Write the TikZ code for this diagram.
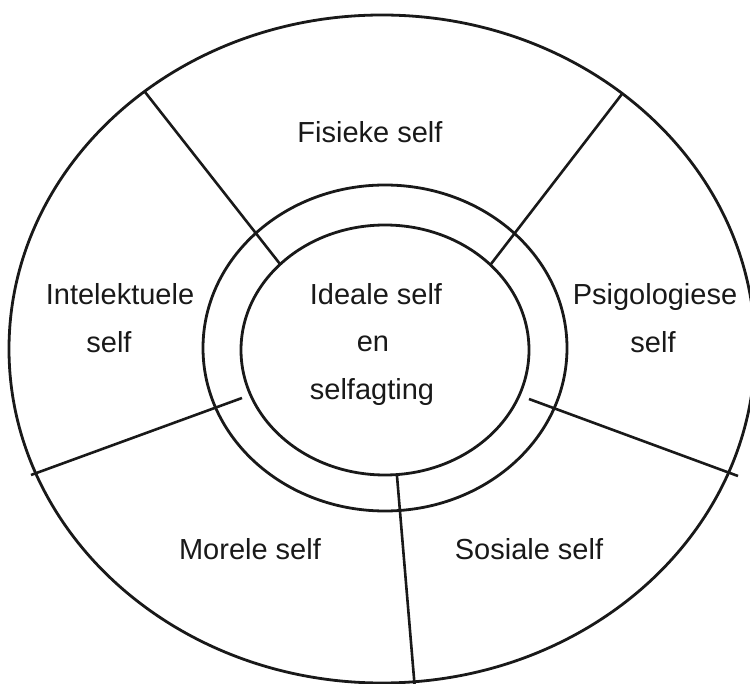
\documentclass[tikz,border=0pt]{standalone}
\usepackage{fontspec}
\setmainfont{Liberation Sans}
\usetikzlibrary{shapes.geometric}
\begin{document}
\begin{tikzpicture}[x=1pt,y=-1pt,
  ring/.style={draw=black!90, line width=2.8pt},
  divider/.style={draw=black!90, line width=2.6pt},
  lbl/.style={anchor=base, inner sep=0pt, font=\fontsize{29}{35}\selectfont, text=black!90}]
\useasboundingbox (0,0) rectangle (750,684);
% rings
\node[ring, ellipse, minimum width=746pt, minimum height=668pt, inner sep=0pt] (outer) at (382,349) {};
\node[ring, ellipse, minimum width=364pt, minimum height=326pt, inner sep=0pt] (middle) at (385,348) {};
\node[ring, ellipse, minimum width=288pt, minimum height=250pt, inner sep=0pt] (inner) at (385,350) {};
% divider end points
\coordinate (ul1) at (145,92);   \coordinate (ul2) at (280,264);
\coordinate (ur1) at (622,94);   \coordinate (ur2) at (491,264);
\coordinate (r1)  at (529,399);  \coordinate (r2)  at (738,476);
\coordinate (l1)  at (242,398);  \coordinate (l2)  at (31,475);
\coordinate (b1)  at (397,476);  \coordinate (b2)  at (415,690);
\draw[divider] (ul1) -- (ul2);
\draw[divider] (ur1) -- (ur2);
\draw[divider] (r1) -- (r2);
\draw[divider] (l1) -- (l2);
\draw[divider] (b1) -- (b2);
% labels
\node[lbl] (fis) at (370,143) {Fisieke self};
\node[lbl] (int1) at (120,305) {Intelektuele};
\node[lbl] (int2) at (109,353) {self};
\node[lbl] (id1) at (376,305) {Ideale self};
\node[lbl] (id2) at (373,352) {en};
\node[lbl] (id3) at (372,400) {selfagting};
\node[lbl] (psi1) at (655,305) {Psigologiese};
\node[lbl] (psi2) at (653,353) {self};
\node[lbl] (mor) at (250,559) {Morele self};
\node[lbl] (sos) at (529,559) {Sosiale self};
\end{tikzpicture}
\end{document}
